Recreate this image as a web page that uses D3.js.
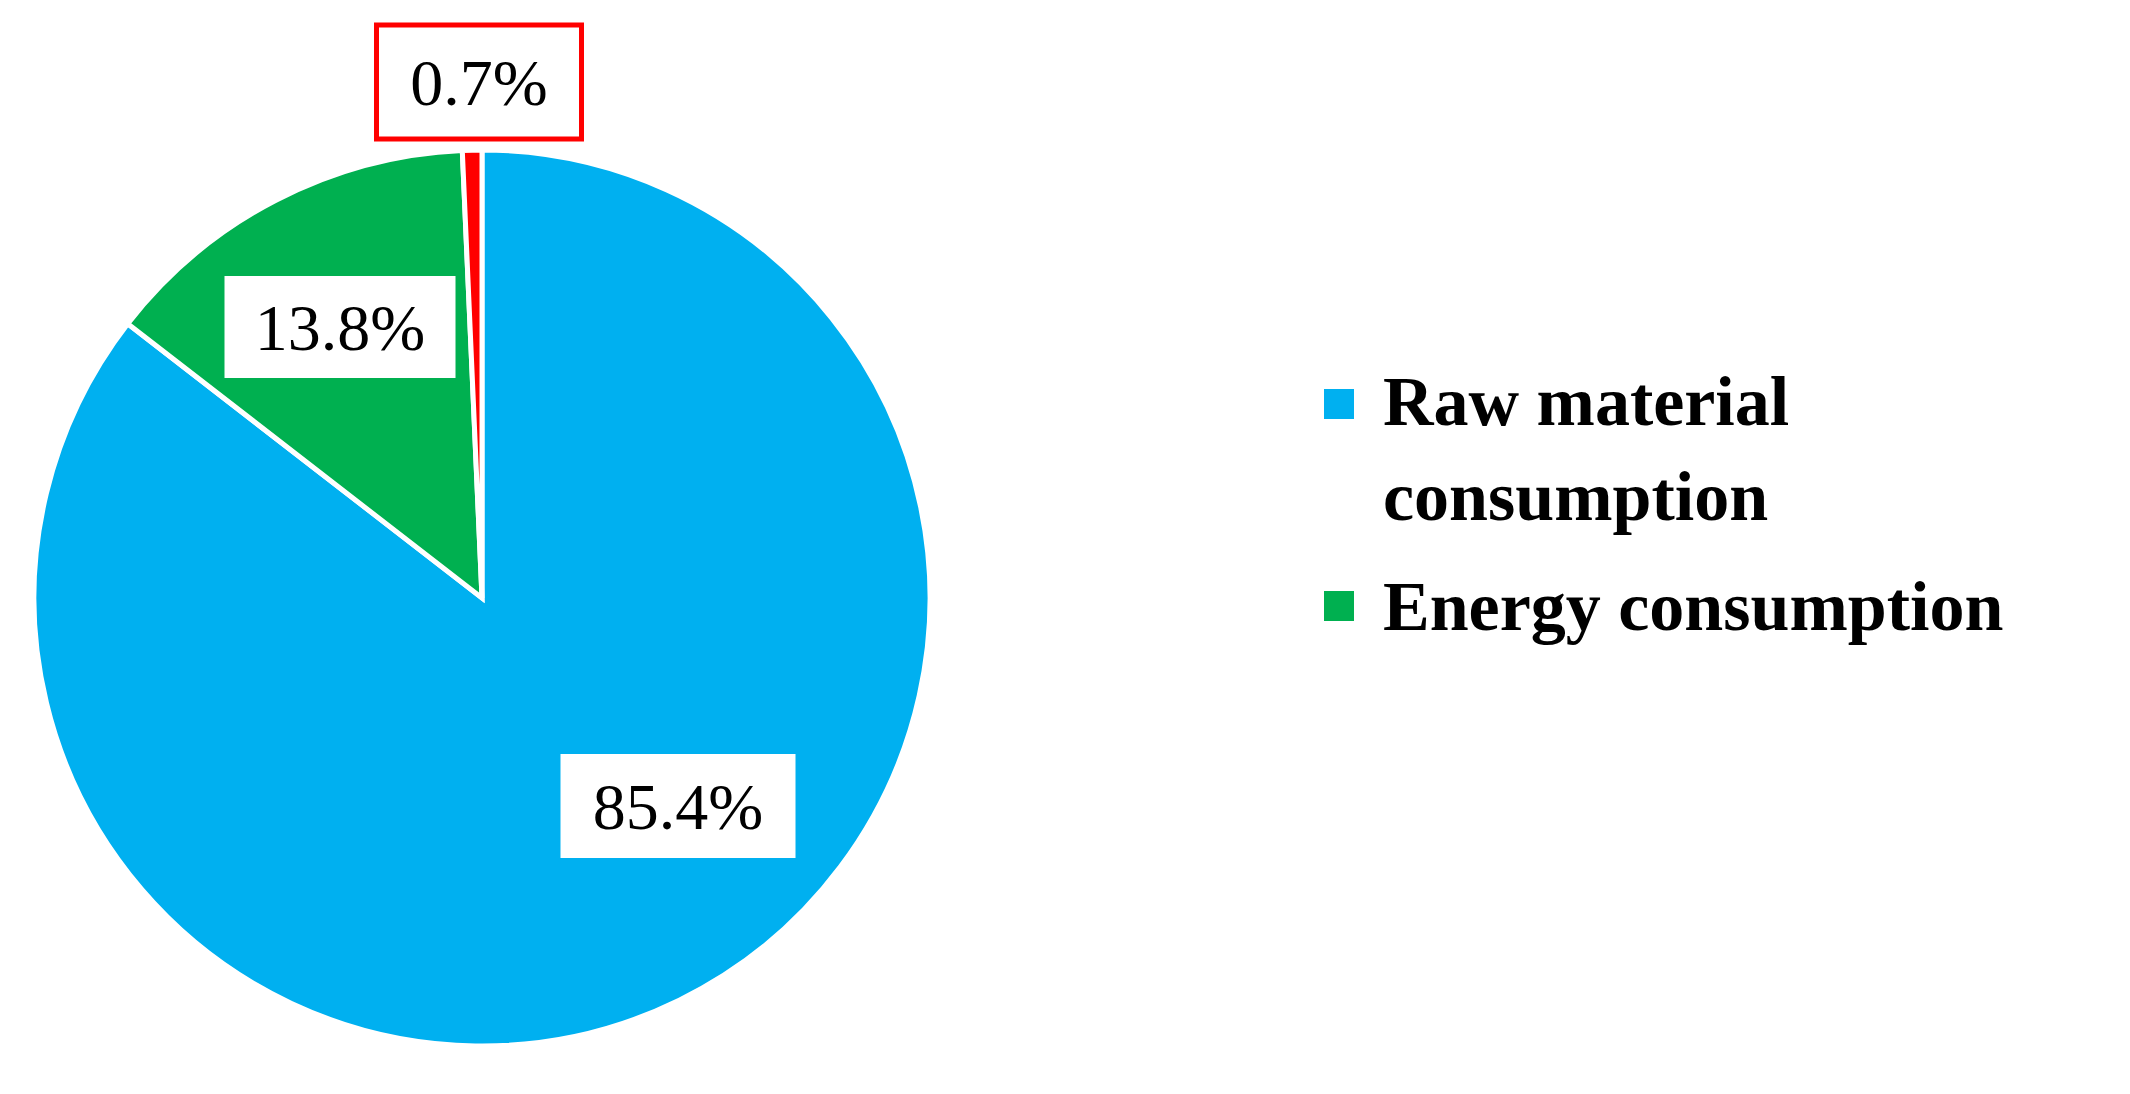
<!DOCTYPE html>
<html><head><meta charset="utf-8">
<script src="https://cdn.jsdelivr.net/npm/d3@7"></script>
<style>body{margin:0;background:#fff}</style></head>
<body><svg id="c" width="2130" height="1094"></svg>
<script>
const categories = ["Raw material consumption","Energy consumption","Other"];
const values = [85.4, 13.8, 0.7];
const labels = ["85.4%","13.8%","0.7%"];
const colors = ["#00B0F0","#00B050","#FF0000"];
const legendItems = [["Raw material","consumption"],["Energy consumption"]];

const svg = d3.select("#c");
const cx = 482, cy = 598, r = 448;
const g = svg.append("g").attr("transform",`translate(${cx},${cy})`);
const pie = d3.pie().sort(null).value(d=>d);
const arcs = pie(values);
const arc = d3.arc().innerRadius(0).outerRadius(r);
g.selectAll("path").data(arcs).join("path")
  .attr("d",arc).attr("fill",(d,i)=>colors[i])
  .attr("stroke","#fff").attr("stroke-width",5).attr("stroke-linejoin","miter");

// label boxes (centre positions)
const boxes = [
  {x:678,y:806,w:235,h:104,stroke:"none"},
  {x:340,y:327,w:231,h:102,stroke:"none"},
  {x:479,y:82,w:205,h:114,stroke:"#FF0000"}
];
boxes.forEach((b,i)=>{
  svg.append("rect").attr("x",b.x-b.w/2).attr("y",b.y-b.h/2).attr("width",b.w).attr("height",b.h)
    .attr("fill","#fff").attr("stroke",b.stroke).attr("stroke-width",5);
  svg.append("text").attr("x",b.x).attr("y",b.y).attr("dy","0.35em").attr("text-anchor","middle")
    .attr("font-family","Liberation Serif, Times New Roman, serif").attr("font-size",66)
    .text(labels[i]);
});

// legend
const lg = svg.append("g").attr("font-family","Liberation Serif, Times New Roman, serif")
  .attr("font-weight","bold").attr("font-size",70);
const rows = [{sq:404,lines:[425,520]},{sq:606,lines:[630]}];
legendItems.forEach((lines,i)=>{
  lg.append("rect").attr("x",1324).attr("y",rows[i].sq-15).attr("width",30).attr("height",30).attr("fill",colors[i]);
  lines.forEach((t,j)=>lg.append("text").attr("x",1383).attr("y",rows[i].lines[j]).text(t));
});
</script></body></html>
